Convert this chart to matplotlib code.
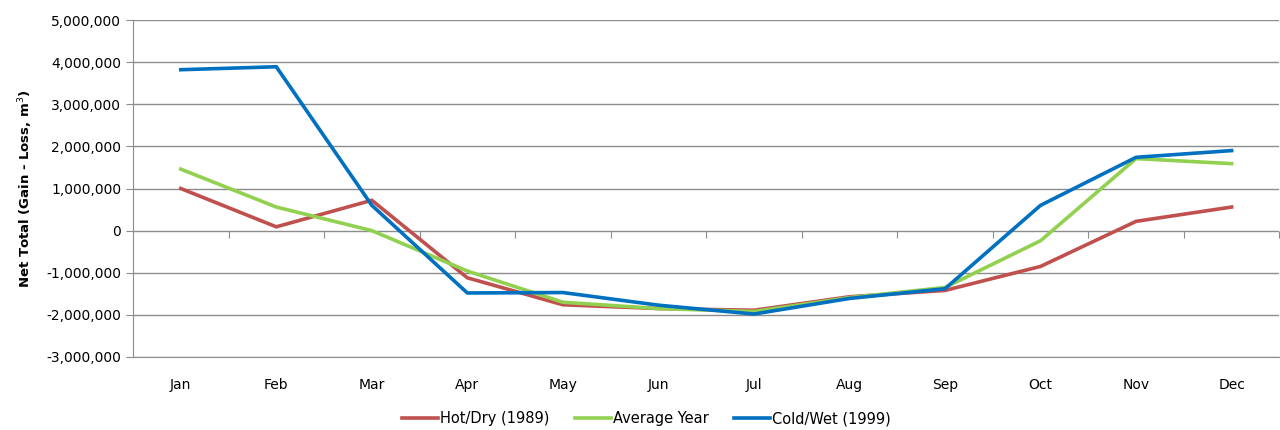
import numpy as np
import matplotlib.pyplot as plt
from matplotlib.ticker import FuncFormatter

# dados
meses = ['Jan', 'Feb', 'Mar', 'Apr', 'May', 'Jun', 'Jul', 'Aug', 'Sep', 'Oct', 'Nov', 'Dec']
hot_dry = [1000000, 90000, 720000, -1120000, -1760000, -1850000, -1890000, -1570000, -1420000, -850000, 220000, 560000]
media = [1460000, 560000, 0, -960000, -1700000, -1850000, -1920000, -1590000, -1350000, -240000, 1710000, 1590000]
cold_wet = [3820000, 3890000, 600000, -1480000, -1470000, -1770000, -1980000, -1610000, -1380000, 600000, 1740000, 1900000]

nomes = ['Hot/Dry (1989)', 'Average Year', 'Cold/Wet (1999)']
cores = ['#C0504D', '#92D050', '#0070C0']

fig = plt.figure(figsize=(12.8, 4.3), dpi=100)
ax = fig.add_axes([133/1280, 1-357/430, 1-133/1280-0.0005, 337/430])

x = np.arange(len(meses))
for serie, nome, cor in zip([hot_dry, media, cold_wet], nomes, cores):
    ax.plot(x, serie, color=cor, lw=2.6, label=nome, solid_joinstyle='miter')

ax.set_xlim(-0.5, 11.5)
ax.set_ylim(-3000000, 5000000)
ax.set_yticks(np.arange(-3000000, 5000001, 1000000))
ax.yaxis.set_major_formatter(FuncFormatter(lambda v, p: '{:,.0f}'.format(v)))
ax.grid(axis='y', color='#8C8C8C', lw=1)
ax.set_axisbelow(True)

for s in ['top', 'right']:
    ax.spines[s].set_visible(False)
ax.spines['left'].set_color('#8C8C8C')
ax.spines['bottom'].set_color('#8C8C8C')

ax.set_xticks(x)
ax.set_xticklabels(meses)
ax.tick_params(axis='x', length=0, pad=15, labelsize=10)
ax.tick_params(axis='y', length=5, color='#8C8C8C', labelsize=10)

# marcas do eixo de categorias na linha do zero
sec = ax.secondary_xaxis(3/8)
sec.set_xticks(np.arange(0.5, 12, 1))
sec.set_xticklabels([])
sec.tick_params(direction='out', length=5, color='#8C8C8C')
sec.spines['bottom'].set_visible(False)

ax.set_ylabel('Net Total (Gain - Loss, m$^3$)', fontsize=9.5, fontweight='bold', labelpad=8)

fig.legend(loc='lower center', bbox_to_anchor=(0.505, -0.022), ncol=3, frameon=False,
           fontsize=10.5, handlelength=2.5, handletextpad=0.15, columnspacing=1.7)

fig.savefig('out.png', dpi=100)
